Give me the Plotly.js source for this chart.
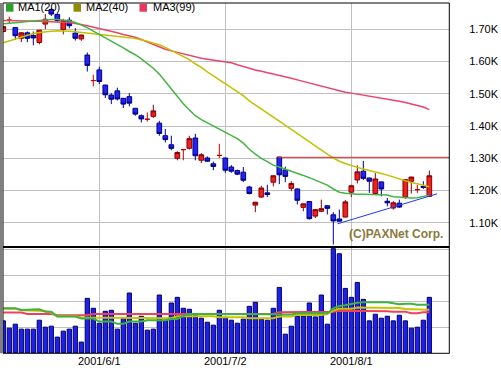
<!DOCTYPE html>
<html><head><meta charset="utf-8">
<script src="https://cdn.plot.ly/plotly-3.0.1.min.js"></script>
<style>html,body{margin:0;padding:0;background:#fff;}#chart{width:501px;height:368px;}</style>
</head><body><div id="chart"></div>
<script>
// ---- data (trading-day index 0..71) ----
const opens  = [1693,1728,1705,1672,1689,1681,1659,1716,1761,1746,1699,1728,1688,1670,1620,1541,1574,1527,1496,1509,1486,1491,1455,1432,1421,1430,1409,1370,1342,1300,1327,1331,1363,1294,1301,1283,1309,1301,1273,1262,1257,1211,1155,1180,1193,1226,1304,1264,1207,1205,1148,1166,1121,1136,1153,1125,1112,1118,1195,1233,1260,1239,1191,1227,1167,1146,1161,1180,1229,1203,1213,1182];
const highs  = [1710,1739,1706,1690,1693,1693,1697,1747,1766,1750,1732,1737,1703,1683,1628,1559,1584,1528,1502,1519,1487,1502,1456,1436,1442,1466,1416,1391,1370,1322,1329,1370,1376,1316,1306,1290,1345,1302,1279,1265,1273,1215,1165,1215,1218,1247,1304,1274,1229,1207,1160,1167,1143,1172,1155,1133,1141,1171,1218,1278,1292,1240,1254,1228,1177,1167,1172,1236,1243,1218,1229,1262];
const lows   = [1690,1716,1667,1660,1660,1650,1653,1700,1741,1721,1684,1703,1665,1664,1569,1523,1530,1487,1468,1479,1456,1461,1432,1411,1414,1425,1370,1349,1325,1294,1294,1327,1294,1285,1290,1263,1301,1255,1255,1248,1226,1188,1133,1177,1180,1213,1220,1226,1198,1157,1136,1110,1115,1133,1126,1033,1104,1117,1180,1222,1233,1193,1188,1182,1151,1141,1146,1174,1191,1193,1205,1180];
const closes = [1708,1728,1680,1689,1672,1673,1697,1731,1747,1727,1727,1711,1672,1682,1588,1541,1538,1497,1483,1484,1468,1471,1437,1422,1421,1447,1377,1358,1331,1318,1327,1361,1308,1311,1291,1275,1309,1263,1260,1251,1232,1191,1164,1208,1188,1246,1249,1244,1222,1170,1159,1113,1141,1144,1145,1106,1105,1165,1215,1258,1238,1229,1236,1205,1162,1162,1149,1234,1242,1203,1210,1246];
const ma20 = [1717,1718,1720,1722,1724,1726,1728,1729,1730,1730,1729,1726,1721,1714,1705,1694,1684,1673,1663,1652,1642,1631,1621,1608,1594,1579,1561,1538,1514,1492,1469,1450,1432,1420,1410,1401,1391,1381,1370,1361,1347,1328,1313,1300,1290,1279,1273,1267,1261,1254,1247,1240,1233,1226,1217,1205,1195,1192,1190,1189,1189,1188,1188,1187,1186,1181,1179,1177,1177,1178,1182,1186];
const ma40 = [1658,1664,1671,1677,1683,1687,1690,1693,1694,1695,1695,1694,1692,1690,1689,1688,1686,1683,1681,1679,1677,1674,1671,1668,1663,1657,1652,1644,1634,1624,1616,1606,1593,1582,1568,1556,1543,1530,1519,1507,1494,1478,1466,1453,1441,1428,1415,1402,1390,1377,1364,1352,1339,1326,1313,1301,1291,1284,1277,1272,1267,1263,1259,1253,1248,1242,1235,1229,1225,1221,1216,1212];
const ma99 = [1727,1727,1727,1726,1726,1725,1725,1724,1724,1723,1722,1721,1719,1715,1711,1707,1703,1698,1693,1689,1684,1680,1675,1668,1660,1652,1644,1638,1633,1628,1623,1618,1614,1610,1607,1604,1601,1598,1596,1590,1584,1579,1574,1570,1566,1562,1557,1552,1548,1543,1538,1533,1528,1523,1518,1513,1509,1505,1502,1499,1496,1494,1491,1488,1485,1481,1477,1473,1469,1465,1459,1451];
// volume in millions of shares
const volumes = [5.44,4.20,4.88,4.04,4.04,4.04,5.55,4.37,4.54,2.69,3.70,4.04,4.54,1.85,9.25,7.57,5.04,7.06,7.23,4.04,5.89,10.15,5.04,6.22,3.87,4.04,9.81,5.55,8.46,9.42,7.57,7.40,6.39,5.89,5.21,4.71,7.23,6.05,5.55,5.04,5.72,7.90,8.58,5.72,5.55,7.57,11.10,3.19,4.54,6.22,6.22,8.46,6.11,9.81,4.88,17.66,16.80,10.93,9.42,11.94,9.08,5.44,6.56,5.89,6.22,5.44,6.39,5.44,4.20,4.37,5.55,9.42];
const volMa20 = [7.57,7.57,7.57,7.29,7.29,7.29,7.40,7.00,7.00,6.17,6.17,6.17,6.17,5.83,5.83,5.83,5.32,5.32,5.32,4.93,4.93,5.32,5.32,5.32,5.55,5.55,5.55,5.55,5.77,5.77,6.28,6.61,6.61,6.61,6.61,6.61,6.67,6.67,6.67,6.67,6.67,6.67,6.56,6.56,6.56,6.56,6.50,6.50,6.50,6.73,6.73,6.73,6.73,6.73,6.73,7.57,7.96,8.07,8.30,8.52,8.58,8.58,8.58,8.58,8.58,8.41,8.24,8.35,8.35,8.18,8.18,8.18];
const volMa40 = [7.51,7.51,7.51,7.23,7.23,7.12,7.12,7.12,6.84,6.22,6.22,6.22,6.22,6.00,6.00,6.00,6.00,6.00,6.00,6.00,6.00,6.00,6.00,6.00,6.00,5.89,5.89,5.89,5.89,6.22,6.22,6.22,6.22,6.22,6.22,6.22,6.05,6.05,6.05,6.05,6.05,5.89,5.89,5.89,5.89,5.89,6.17,6.17,6.17,6.45,6.45,6.45,6.45,6.45,6.61,7.17,7.51,7.51,7.51,7.68,7.68,7.68,7.57,7.57,7.62,7.62,7.62,7.45,7.45,7.34,7.34,7.34];
const volMa99 = [6.84,6.84,6.84,6.84,6.61,6.61,6.61,6.61,6.61,6.39,6.39,6.39,6.39,6.39,6.39,6.61,6.61,6.61,6.61,6.61,6.61,6.61,6.61,6.61,6.61,6.61,6.61,6.61,6.61,6.61,6.61,6.61,6.61,6.50,6.50,6.50,6.61,6.61,6.61,6.61,6.61,6.61,6.61,6.61,6.61,6.61,6.89,6.89,6.89,6.89,6.89,6.89,7.00,7.00,7.00,7.00,7.17,7.17,7.17,7.17,7.17,7.17,7.06,7.06,7.06,7.00,7.00,7.00,6.73,6.73,6.89,6.89];
// drawn lines (resistance & support)
const resistX = [45.7, 74.4], resistY = [1303, 1303];
const supportX = [55.7, 72.3], supportY = [1097, 1190];
// ticks
const dateTickIdx = [16, 37, 58];
const dateTickText = ['2001/6/1', '2001/7/2', '2001/8/1'];
const priceTicks = [1100,1200,1300,1400,1500,1600,1700];
const priceTickText = ['1.10K','1.20K','1.30K','1.40K','1.50K','1.60K','1.70K'];
const volGrid = [4.4, 8.8, 13.2, 17.6];
const volLabelPos = [0.77, 4.58, 8.95, 13.13, 16.76];
const volTickText = ['0M','4M','9M','13M','18M'];
const legendNames = ['MA1(20)','MA2(40)','MA3(99)'];
const legendColors = ['#2e9e2e','#8c8c00','#e8385c'];

// ---- build ----
const FONT = 'Liberation Sans, Arial, sans-serif';
const idx = opens.map((_, i) => i);
const normal = idx.filter(i => opens[i] !== closes[i]);
const doji = idx.filter(i => opens[i] === closes[i]);
const pick = (a, ids) => ids.map(i => a[i]);

const W = 501, H = 368, L = 3, R = 2, T = 3, B = 15;
const PW = W - L - R, PH = H - T - B;
const px = x => (x - L) / PW;
const py = y => 1 - (y - T) / PH;
const xEnd = px(449.3);
const split = py(247);

const traces = [
  {x: idx, y: ma99, type: 'scatter', mode: 'lines', line: {color: '#ec4468', width: 1.5}, xaxis: 'x', yaxis: 'y', hoverinfo: 'skip'},
  {x: idx, y: ma40, type: 'scatter', mode: 'lines', line: {color: '#c4c000', width: 1.5}, xaxis: 'x', yaxis: 'y', hoverinfo: 'skip'},
  {x: idx, y: ma20, type: 'scatter', mode: 'lines', line: {color: '#44b444', width: 1.5}, xaxis: 'x', yaxis: 'y', hoverinfo: 'skip'},
  {type: 'candlestick', x: normal, open: pick(opens, normal), high: pick(highs, normal), low: pick(lows, normal), close: pick(closes, normal),
   increasing: {line: {color: '#880000', width: 1}, fillcolor: '#f02020'},
   decreasing: {line: {color: '#000088', width: 1}, fillcolor: '#2424f0'},
   xaxis: 'x', yaxis: 'y', whiskerwidth: 0},
  {type: 'candlestick', x: doji, open: pick(opens, doji), high: pick(highs, doji), low: pick(lows, doji), close: pick(closes, doji),
   increasing: {line: {color: '#c00000', width: 1}, fillcolor: '#f02020'},
   decreasing: {line: {color: '#c00000', width: 1}, fillcolor: '#f02020'},
   xaxis: 'x', yaxis: 'y', whiskerwidth: 0},
  {x: resistX, y: resistY, type: 'scatter', mode: 'lines', line: {color: '#e02828', width: 1}, xaxis: 'x', yaxis: 'y', hoverinfo: 'skip'},
  {x: supportX, y: supportY, type: 'scatter', mode: 'lines', line: {color: '#2038f0', width: 1}, xaxis: 'x', yaxis: 'y', hoverinfo: 'skip'},
  {x: idx, y: volumes, type: 'bar', marker: {color: '#2020ee', line: {color: '#000060', width: 1}}, xaxis: 'x', yaxis: 'y2'},
  {x: idx, y: volMa99, type: 'scatter', mode: 'lines', line: {color: '#f04060', width: 2}, xaxis: 'x', yaxis: 'y2', hoverinfo: 'skip'},
  {x: idx, y: volMa40, type: 'scatter', mode: 'lines', line: {color: '#c8c400', width: 2}, xaxis: 'x', yaxis: 'y2', hoverinfo: 'skip'},
  {x: idx, y: volMa20, type: 'scatter', mode: 'lines', line: {color: '#40b040', width: 2}, xaxis: 'x', yaxis: 'y2', hoverinfo: 'skip'}
];

const tickFont = {family: FONT, size: 11, color: '#000'};
const shapes = [
  {type: 'rect', xref: 'paper', yref: 'paper', x0: 0, x1: xEnd, y0: py(353.3), y1: 1, line: {color: '#000', width: 1}},
  {type: 'line', xref: 'paper', yref: 'paper', x0: 0, x1: xEnd, y0: split, y1: split, line: {color: '#000', width: 2}},
  {type: 'line', xref: 'paper', yref: 'paper', x0: px(1), x1: px(1), y0: py(353.3), y1: 1, line: {color: '#000', width: 1}}
];
const annotations = [];
const legX = [6, 73.5, 139.5], legTX = [17, 85, 152];
legendNames.forEach((n, k) => {
  shapes.push({type: 'rect', xref: 'paper', yref: 'paper', x0: px(legX[k]), x1: px(legX[k] + 7.5), y0: py(11.7), y1: py(3.5),
               fillcolor: legendColors[k], line: {width: 0}});
  annotations.push({text: n, xref: 'paper', yref: 'paper', x: px(legTX[k]), y: py(7.3), xanchor: 'left', yanchor: 'middle',
                    showarrow: false, font: {family: FONT, size: 11, color: '#000'}, borderpad: 0});
});
annotations.push({text: '<b>(C)PAXNet Corp.</b>', xref: 'paper', yref: 'paper', x: px(444), y: py(234), xanchor: 'right', yanchor: 'middle',
                  showarrow: false, font: {family: FONT, size: 12, color: '#8a7a3c'}, borderpad: 0});

const layout = {
  width: W, height: H, margin: {l: L, r: R, t: T, b: B, pad: 0},
  paper_bgcolor: '#fff', plot_bgcolor: '#fff', showlegend: false,
  boxgap: 0.22, boxgroupgap: 0, bargap: 0.3,
  xaxis: {domain: [0, xEnd], range: [-0.05, 74.33], anchor: 'y2', tickvals: dateTickIdx, ticktext: dateTickText,
          showgrid: true, gridcolor: '#c0c0c0', gridwidth: 1, zeroline: false, showline: false, ticks: '',
          tickfont: tickFont, rangeslider: {visible: false}, fixedrange: true},
  yaxis: {domain: [split, 1], range: [1025.2, 1781.3], anchor: 'free', side: 'left', position: 0.998,
          tickvals: priceTicks, ticktext: priceTickText, showgrid: true, gridcolor: '#c0c0c0', gridwidth: 1,
          zeroline: false, showline: false, ticks: '', tickfont: tickFont, fixedrange: true},
  yaxis2: {domain: [0, split], range: [0, 17.94], anchor: 'free', side: 'left', position: 0.998,
           tickvals: volGrid, showticklabels: false, showgrid: true, gridcolor: '#c0c0c0', gridwidth: 1,
           zeroline: false, showline: false, ticks: '', fixedrange: true},
  yaxis3: {overlaying: 'y2', range: [0, 17.94], anchor: 'free', side: 'left', position: 0.998,
           tickvals: volLabelPos, ticktext: volTickText, showgrid: false, zeroline: false, showline: false, ticks: '',
           tickfont: tickFont, fixedrange: true},
  shapes: shapes, annotations: annotations
};

Plotly.newPlot('chart', traces, layout, {staticPlot: true, displayModeBar: false});
</script></body></html>
